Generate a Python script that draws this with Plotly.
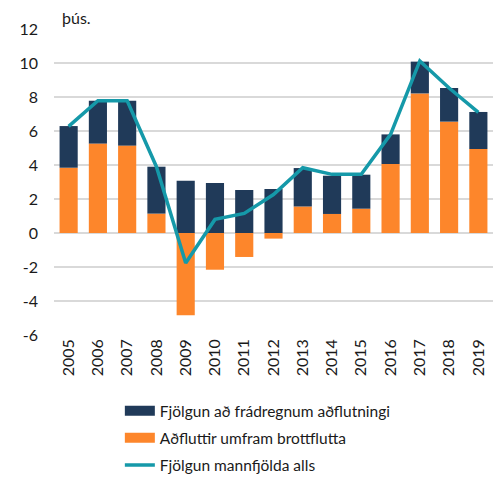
import plotly.graph_objects as go

years = [str(y) for y in range(2005, 2020)]
natural_increase = [2.45, 2.52, 2.64, 2.76, 3.08, 2.94, 2.53, 2.59, 2.26, 2.25, 2.00, 1.74, 1.87, 1.98, 2.18]
net_migration = [3.84, 5.26, 5.14, 1.14, -4.84, -2.16, -1.41, -0.33, 1.56, 1.12, 1.43, 4.06, 8.21, 6.55, 4.94]
total_growth = [6.27, 7.78, 7.78, 3.90, -1.76, 0.80, 1.15, 2.26, 3.84, 3.45, 3.45, 5.80, 10.12, 8.53, 7.10]
y_tick_values = [-6, -4, -2, 0, 2, 4, 6, 8, 10, 12]
y_tick_labels = ["-6", "-4", "-2", "0", "2", "4", "6", "8", "10", "12"]

NAME_NAT = "Fjölgun að frádregnum aðflutningi"
NAME_MIG = "Aðfluttir umfram brottflutta"
NAME_TOT = "Fjölgun mannfjölda alls"

NAVY = "#203a59"
ORANGE = "#fd862b"
TEAL = "#1599a9"
FONT = "Lato, 'Open Sans', sans-serif"

fig = go.Figure()
fig.add_trace(go.Bar(x=years, y=net_migration, name=NAME_MIG,
                     marker=dict(color=ORANGE, line=dict(width=0)), showlegend=False))
fig.add_trace(go.Bar(x=years, y=natural_increase, name=NAME_NAT,
                     marker=dict(color=NAVY, line=dict(width=0)), showlegend=False))
fig.add_trace(go.Scatter(x=years, y=total_growth, name=NAME_TOT, mode="lines",
                         line=dict(color=TEAL, width=3.5), legendrank=3, legendgroup="c"))

# legend entries for the bar series, drawn as wide swatches
fig.add_trace(go.Scatter(x=[None], y=[None], name=NAME_NAT, mode="lines",
                         line=dict(color=NAVY, width=10), legendrank=1, legendgroup="a"))
fig.add_trace(go.Scatter(x=[None], y=[None], name=NAME_MIG, mode="lines",
                         line=dict(color=ORANGE, width=10), legendrank=2, legendgroup="b"))

# the page body has an 8px default margin, so the figure is sized to fit the window
fig.update_layout(
    width=494, height=473,
    barmode="relative", bargap=0.38,
    plot_bgcolor="white", paper_bgcolor="white",
    margin=dict(l=46, r=9, t=21, b=146, autoexpand=False),
    font=dict(family=FONT, size=16, color="#1a1a1a"),
    xaxis=dict(tickangle=-90, showgrid=False, showline=False, ticks="",
               tickfont=dict(size=16), automargin=False),
    yaxis=dict(range=[-6, 12], tickmode="array", tickvals=y_tick_values, ticktext=y_tick_labels,
               showgrid=True, gridcolor="#d9d9d9", gridwidth=1.5,
               zeroline=False, showline=False, ticks="", tickfont=dict(size=16),
               automargin=False, ticklabelstandoff=15),
    legend=dict(orientation="v", x=0.15, xanchor="left", y=-0.193, yanchor="top",
                font=dict(size=15.5), tracegroupgap=4,
                bgcolor="rgba(0,0,0,0)"),
    showlegend=True,
    annotations=[dict(text="þús.", x=0.014, xref="paper", y=1.0, yref="paper",
                      xanchor="left", yanchor="bottom", showarrow=False,
                      font=dict(size=16))],
)

fig.write_html("out.html")
